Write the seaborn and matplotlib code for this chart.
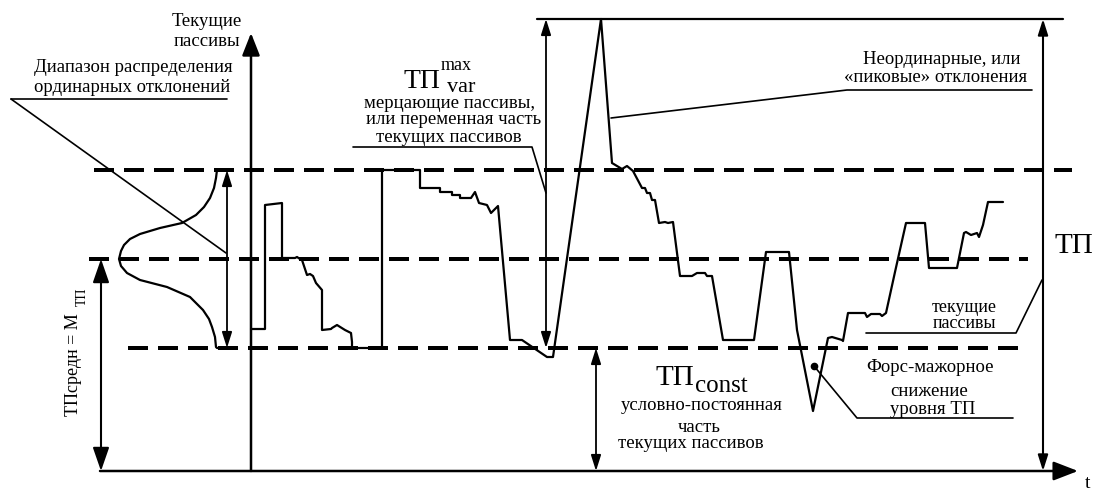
import matplotlib
matplotlib.use("Agg")
import matplotlib.pyplot as plt
import seaborn as sns
import pandas as pd

# ---------------- data (time, level; baseline level = 0) ----------------
curve_t = [251, 265, 265, 282, 282, 295, 297, 300, 302, 307, 310, 313, 316, 322, 322,
           331, 332, 337, 345, 351, 352, 352, 382, 382, 420, 420, 440, 440, 452, 452,
           460, 460, 471, 475, 479, 487, 491, 498, 510, 522, 547, 553, 601, 612, 622,
           627, 633, 642, 645, 647, 650, 652, 655, 659, 665, 668, 673, 680, 692, 697,
           705, 707, 712, 723, 754, 766, 789, 797, 813, 828, 832, 842, 843, 848, 865,
           867, 871, 880, 882, 886, 895, 906, 925, 929, 957, 964, 966, 971, 977, 979,
           983, 988, 1003]
curve_level = [142, 142, 266, 268, 213, 213, 214, 212, 211, 196, 197, 195, 188, 181, 141,
               142, 143, 146, 141, 138, 129, 123, 123, 301, 301, 283, 283, 279, 279, 276,
               276, 273, 273, 279, 268, 266, 258, 265, 131, 131, 114, 114, 452, 308, 302,
               305, 300, 283, 283, 278, 278, 271, 271, 248, 249, 248, 249, 195, 195, 198,
               198, 195, 195, 131, 131, 219, 219, 141, 60, 133, 134, 131, 130, 158, 158,
               154, 157, 157, 155, 158, 199, 248, 248, 203, 203, 238, 239, 236, 238, 234,
               246, 269, 269]

bell_x = [226, 217, 216, 214, 210, 204, 196, 182, 160, 140, 130, 124, 121, 119,
          121, 127, 140, 167, 190, 203, 209, 212, 215, 216, 217, 226]
bell_level = [301, 301, 293, 283, 273, 264, 256, 248, 243, 237, 232, 226, 220, 212,
              205, 198, 191, 184, 174, 161, 152, 144, 134, 124, 123, 123]

level_upper = 301      # upper bound of ordinary deviations
level_mean = 212       # ТПсредн
level_const = 123      # ТП const
level_max = 452        # peak maximum
level_base = 0

# ---------------- figure ----------------
sns.set_theme(style="white")
plt.rcParams["font.family"] = ["Liberation Serif", "DejaVu Serif"]

fig = plt.figure(figsize=(10.94, 4.93), dpi=100)
ax = fig.add_axes([0, 0, 1, 1])
ax.set_xlim(0, 1094)
ax.set_ylim(-22, 471)
ax.axis("off")

K = "black"
px = 0.72  # points per pixel at 100 dpi

# dashed reference levels
dash_lw = 4 * px
dash_pat = (20 * px / dash_lw, 10 * px / dash_lw)
for lv, x0, x1 in [(level_upper, 94, 1072), (level_mean, 89, 1028), (level_const, 128, 1022)]:
    ax.plot([x0, x1], [lv, lv], color=K, lw=dash_lw, ls=(0, dash_pat), solid_capstyle="butt",
            dash_capstyle="butt")

# top max line
ax.plot([537, 1063], [level_max, level_max], color=K, lw=1.6)

# main series
df = pd.DataFrame({"t": curve_t, "level": curve_level})
sns.lineplot(data=df, x="t", y="level", sort=False, estimator=None, color=K, lw=1.6, ax=ax)

# distribution bell
dfb = pd.DataFrame({"x": bell_x, "level": bell_level})
sns.lineplot(data=dfb, x="x", y="level", sort=False, estimator=None, color=K, lw=1.6, ax=ax)
ax.set_xlabel("")
ax.set_ylabel("")


def arrow(p0, p1, style, hl, hw, lw=1.3):
    ax.annotate("", xy=p1, xytext=p0,
                arrowprops=dict(arrowstyle=f"{style},head_length={hl},head_width={hw}",
                                mutation_scale=10, lw=lw, color=K, shrinkA=0, shrinkB=0))


# axes
arrow((100, level_base), (1078, level_base), "-|>", 1.5, 0.58, lw=1.8)
arrow((251, level_base), (251, 438), "-|>", 1.37, 0.54, lw=1.8)

# double arrows
arrow((101, level_base), (101, level_mean), "<|-|>", 1.44, 0.5, lw=1.5)
arrow((227, level_const), (227, level_upper), "<|-|>", 0.95, 0.3, lw=1.3)
arrow((546, level_const), (546, level_max), "<|-|>", 0.95, 0.3, lw=1.3)
arrow((596, level_base), (596, level_const), "<|-|>", 0.95, 0.3, lw=1.3)
arrow((1043, level_base), (1043, level_max), "<|-|>", 0.95, 0.3, lw=1.5)

# leader lines
thin = 1.2
ax.plot([11, 227], [372, 372], color=K, lw=thin)
ax.plot([11, 226], [372, 218], color=K, lw=thin)
ax.plot([353, 532, 546], [324, 324, 278], color=K, lw=thin)
ax.plot([1032, 847, 611], [381, 381, 353], color=K, lw=thin)
ax.plot([866, 1016, 1042], [138, 138, 191], color=K, lw=thin)
ax.plot([1013, 857, 814], [53, 53, 105], color=K, lw=thin)
ax.plot([814], [105], marker="o", ms=4.5, color=K)

# texts
fs = 13.5
Y = lambda py: 471 - py


def txt(x, py, s, size=fs, **kw):
    ax.text(x, Y(py), s, fontsize=size, ha="center", va="center", color=K, **kw)


txt(207, 22, "Текущие")
txt(207, 41, "пассивы")
txt(133, 68, "Диапазон распределения")
txt(132, 87, "ординарных отклонений")

txt(422, 81, "ТП", size=20)
txt(456, 65, "max", size=13)
txt(461, 87, "var", size=16)
txt(450, 103, "мерцающие пассивы,")
txt(454, 120, "или переменная часть")
txt(449, 138, "текущих пассивов")

txt(942, 60, "Неординарные, или")
txt(936, 77, "«пиковые» отклонения")

txt(1074, 246, "ТП", size=21)
txt(964, 308, "текущие", size=13)
txt(964, 324, "пассивы", size=13)

txt(930, 367, "Форс-мажорное")
txt(929, 392, "снижение")
txt(933, 410, "уровня ТП")

txt(675, 378, "ТП", size=21)
txt(721, 386, "const", size=18)
txt(702, 405, "условно-постоянная")
txt(699, 428, "часть")
txt(691, 443, "текущих пассивов")

txt(1088, 484, "t", size=14)

txt(74, 365, "ТПсредн = М", size=13, rotation=90)
txt(82, 297, "ТП", size=10, rotation=90)

fig.savefig("out.png", dpi=100)
